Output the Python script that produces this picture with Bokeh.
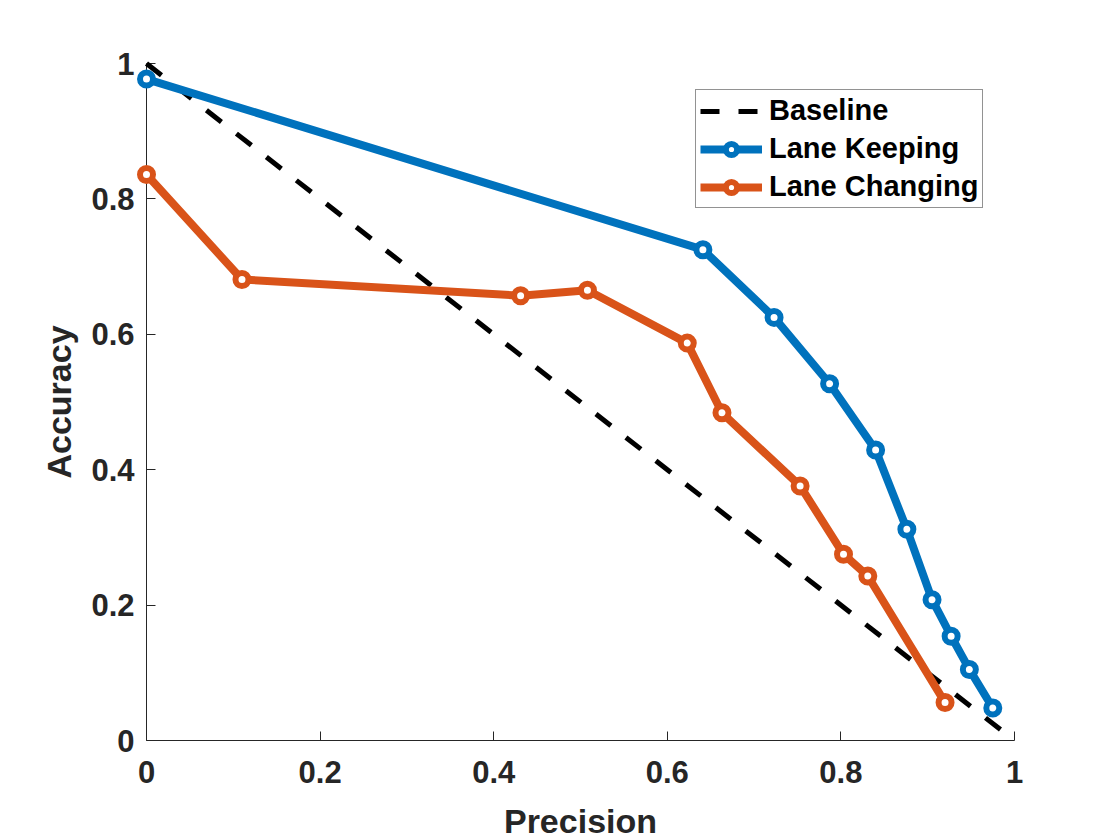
from bokeh.plotting import figure
from bokeh.models import FixedTicker, Legend, LegendItem, Range1d
from bokeh.embed import file_html
from bokeh.resources import INLINE

# Precision / accuracy pairs for each scenario
keep_precision = [0.0, 0.641, 0.723, 0.787, 0.840, 0.876, 0.905, 0.927, 0.948, 0.975]
keep_accuracy = [0.977, 0.725, 0.625, 0.527, 0.429, 0.312, 0.208, 0.154, 0.105, 0.048]

change_precision = [0.0, 0.110, 0.431, 0.508, 0.623, 0.663, 0.753, 0.803, 0.831, 0.920]
change_accuracy = [0.836, 0.681, 0.657, 0.665, 0.587, 0.484, 0.376, 0.275, 0.243, 0.056]

baseline_precision = [0.0, 1.0]
baseline_accuracy = [1.0, 0.0]

tick_values = [0, 0.2, 0.4, 0.6, 0.8, 1]
tick_labels = ["0", "0.2", "0.4", "0.6", "0.8", "1"]

BLUE = "#0072BD"
ORANGE = "#D95319"
AXIS_GRAY = "#262626"
FONT = "Liberation Sans"

p = figure(
    frame_width=868, frame_height=677,
    min_border_left=146, min_border_right=106,
    min_border_top=63, min_border_bottom=100,
    x_range=Range1d(0, 1), y_range=Range1d(0, 1),
    output_backend="svg", toolbar_location=None,
    background_fill_color="white", border_fill_color="white",
)
p.outline_line_color = None
p.xgrid.visible = False
p.ygrid.visible = False

for ax in (p.xaxis[0], p.yaxis[0]):
    ax.ticker = FixedTicker(ticks=tick_values)
    ax.major_label_overrides = dict(zip(tick_values, tick_labels))
    ax.minor_tick_line_color = None
    ax.major_tick_in = 9
    ax.major_tick_out = 0
    ax.axis_line_color = AXIS_GRAY
    ax.major_tick_line_color = AXIS_GRAY
    ax.axis_line_width = 1
    ax.major_label_text_font = FONT
    ax.major_label_text_font_style = "bold"
    ax.major_label_text_font_size = "31px"
    ax.major_label_text_color = AXIS_GRAY
    ax.axis_label_text_font = FONT
    ax.axis_label_text_font_style = "bold"
    ax.axis_label_text_font_size = "34px"
    ax.axis_label_text_color = AXIS_GRAY

p.xaxis.axis_label = "Precision"
p.yaxis.axis_label = "Accuracy"
p.xaxis.major_label_standoff = 20
p.yaxis.major_label_standoff = 12
p.xaxis.axis_label_standoff = 16
p.yaxis.axis_label_standoff = 10

# Random-guess reference diagonal
base = p.line(baseline_precision, baseline_accuracy, line_color="black",
              line_width=5, line_dash="19 19", level="overlay")

keep_line = p.line(keep_precision, keep_accuracy, line_color=BLUE,
                   line_width=8, level="overlay")
keep_pts = p.scatter(keep_precision, keep_accuracy, marker="circle", size=13,
                     line_color=BLUE, line_width=6, fill_color="white",
                     level="overlay")

change_line = p.line(change_precision, change_accuracy, line_color=ORANGE,
                     line_width=8, level="overlay")
change_pts = p.scatter(change_precision, change_accuracy, marker="circle", size=13,
                       line_color=ORANGE, line_width=6, fill_color="white",
                       level="overlay")

legend = Legend(
    items=[
        LegendItem(label="Baseline", renderers=[base]),
        LegendItem(label="Lane Keeping", renderers=[keep_line, keep_pts]),
        LegendItem(label="Lane Changing", renderers=[change_line, change_pts]),
    ],
    location=(549, 532),
    glyph_width=62, glyph_height=28, label_height=28,
    spacing=5, padding=4, margin=0, label_standoff=7,
    label_text_font=FONT, label_text_font_style="bold",
    label_text_font_size="29px", label_text_color="black",
    border_line_color=AXIS_GRAY, border_line_width=1,
    background_fill_color="white", background_fill_alpha=1.0,
)
p.add_layout(legend)

open("out.html", "w").write(file_html(p, INLINE))
